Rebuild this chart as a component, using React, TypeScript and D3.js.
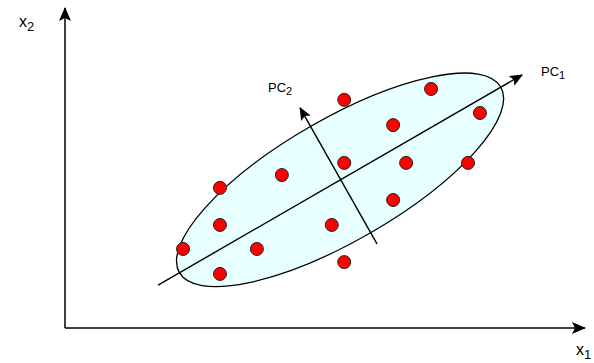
import React from 'react';
import * as d3 from 'd3';

// scatter points (x1, x2) in data units
const pointX1 = [53.7, 70.4, 63.1, 79.8, 41.7, 29.8, 53.7, 65.6, 77.5, 63.1, 29.8, 51.3, 22.7, 36.9, 53.7, 29.8];
const pointX2 = [71.3, 74.7, 63.4, 67.2, 47.8, 43.8, 51.6, 51.6, 51.6, 40.0, 32.2, 32.2, 24.7, 24.7, 20.6, 16.9];

// principal component arrows: [start, end]
const pc1X = [17.9, 87.9];
const pc1Y = [13.4, 79.1];
const pc2X = [60.0, 45.2];
const pc2Y = [26.3, 68.8];

// ellipse: center, end of major axis, end of minor axis
const ellipseX = [52.9, 83.8, 58.8];
const ellipseY = [46.3, 75.3, 29.8];

const axisDomain = [0, 100];
const axisLabels = ['1', '2'];
const pcLabels = ['1', '2'];

const W = 594;
const H = 363;

const App = () => {
  const x = d3.scaleLinear().domain(axisDomain).range([65, 585]);
  const y = d3.scaleLinear().domain(axisDomain).range([328, 8]);

  const cx = x(ellipseX[0]);
  const cy = y(ellipseY[0]);
  const ax = x(ellipseX[1]) - cx;
  const ay = y(ellipseY[1]) - cy;
  const bx = x(ellipseX[2]) - cx;
  const by = y(ellipseY[2]) - cy;
  const rx = Math.hypot(ax, ay);
  const ry = Math.hypot(bx, by);
  const angle = (Math.atan2(ay, ax) * 180) / Math.PI;

  const font = "'Liberation Sans', Arial, sans-serif";

  return (
    <svg width={W} height={H} style={{ position: 'absolute', left: 0, top: 0, background: '#fff' }}>
      <defs>
        <marker id="big" markerUnits="userSpaceOnUse" markerWidth="14" markerHeight="12" refX="13" refY="6" orient="auto">
          <path d="M0,0 L14,6 L0,12 L3,6 Z" fill="#000" />
        </marker>
        <marker id="small" markerUnits="userSpaceOnUse" markerWidth="13" markerHeight="11" refX="12" refY="5.5" orient="auto">
          <path d="M0,0 L13,5.5 L0,11 L2.5,5.5 Z" fill="#000" />
        </marker>
      </defs>

      <ellipse
        cx={cx}
        cy={cy}
        rx={rx}
        ry={ry}
        transform={`rotate(${angle} ${cx} ${cy})`}
        fill="#e8ffff"
        stroke="#000"
        strokeWidth={1.3}
      />

      {/* axes */}
      <line x1={x(0)} y1={y(0)} x2={x(0)} y2={y(100)} stroke="#000" strokeWidth={1.5} markerEnd="url(#big)" />
      <line x1={x(0)} y1={y(0)} x2={x(100)} y2={y(0)} stroke="#000" strokeWidth={1.5} markerEnd="url(#big)" />

      {/* principal components */}
      <line x1={x(pc1X[0])} y1={y(pc1Y[0])} x2={x(pc1X[1])} y2={y(pc1Y[1])} stroke="#000" strokeWidth={1.4} markerEnd="url(#small)" />
      <line x1={x(pc2X[0])} y1={y(pc2Y[0])} x2={x(pc2X[1])} y2={y(pc2Y[1])} stroke="#000" strokeWidth={1.4} markerEnd="url(#small)" />

      {pointX1.map((v, i) => (
        <circle key={i} cx={x(v)} cy={y(pointX2[i])} r={6.5} fill="#ff0000" stroke="#222" strokeWidth={1} />
      ))}

      <g fontFamily={font} fill="#000">
        <text x={19} y={27} fontSize={16}>
          x<tspan fontSize={13} dy={4}>{axisLabels[1]}</tspan>
        </text>
        <text x={576} y={355} fontSize={16}>
          x<tspan fontSize={13} dy={4}>{axisLabels[0]}</tspan>
        </text>
        <text x={268} y={92} fontSize={13}>
          PC<tspan fontSize={11} dy={3}>{pcLabels[1]}</tspan>
        </text>
        <text x={541} y={76} fontSize={13}>
          PC<tspan fontSize={11} dy={3}>{pcLabels[0]}</tspan>
        </text>
      </g>
    </svg>
  );
};

export default App;
